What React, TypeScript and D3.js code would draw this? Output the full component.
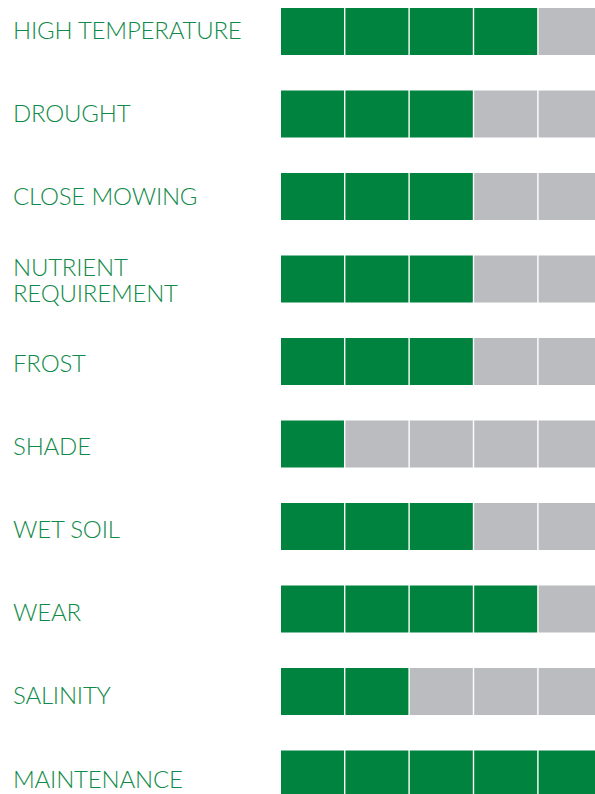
import React from "react";
import * as d3 from "d3";

const categories: string[][] = [
  ["HIGH TEMPERATURE"],
  ["DROUGHT"],
  ["CLOSE MOWING"],
  ["NUTRIENT", "REQUIREMENT"],
  ["FROST"],
  ["SHADE"],
  ["WET SOIL"],
  ["WEAR"],
  ["SALINITY"],
  ["MAINTENANCE"],
];
const ratings: number[] = [4, 3, 3, 3, 3, 1, 3, 4, 2, 5];
const maxRating = 5;

const W = 595;
const H = 794;
const GREEN = "#00833E";
const GRAY = "#BBBCBF";
const TEXT = "#0f8a48";

export default function App() {
  const y = d3.scaleLinear().domain([0, 1]).range([8, 90.5]);
  const labelY = d3.scaleLinear().domain([0, 9]).range([39, 787.6]);
  const barH = 47;
  const x = d3
    .scaleBand<number>()
    .domain(d3.range(maxRating))
    .range([281, 603])
    .paddingInner(0)
    .paddingOuter(0);
  const gap = 1.4;
  const lh = 26;

  return (
    <svg
      width={W}
      height={H}
      style={{ position: "absolute", left: 0, top: 0, display: "block", background: "#fff" }}
    >
      {categories.map((lines, i) => {
        const top = y(i);
        const base = labelY(i) - ((lines.length - 1) * lh) / 2;
        return (
          <g key={i}>
            <text
              fontFamily="Lato, 'Open Sans', sans-serif"
              fontWeight={300}
              fontSize={24}
              letterSpacing={-0.2}
              fill={TEXT}
            >
              {lines.map((l, j) => (
                <tspan key={j} x={13} y={base + j * lh}>
                  {l}
                </tspan>
              ))}
            </text>
            {d3.range(maxRating).map((k) => (
              <rect
                key={k}
                x={x(k)!}
                y={top}
                width={x.bandwidth() - gap}
                height={barH}
                fill={k < ratings[i] ? GREEN : GRAY}
              />
            ))}
          </g>
        );
      })}
    </svg>
  );
}
